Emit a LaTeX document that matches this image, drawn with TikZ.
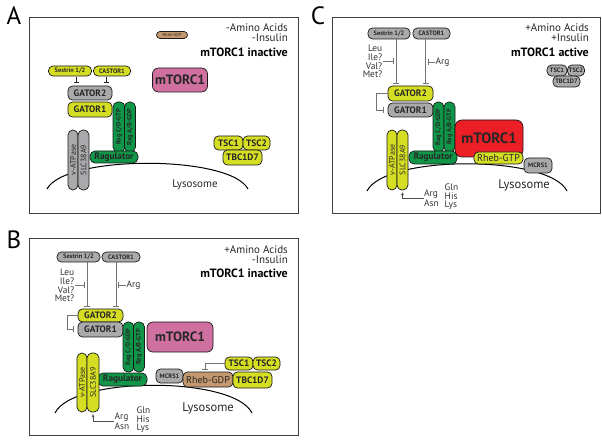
\documentclass[tikz,border=0pt]{standalone}
\usepackage{fontspec}
\setmainfont{PT Sans}
\usetikzlibrary{arrows.meta}

\definecolor{padyellow}{RGB}{214,222,36}
\definecolor{padgray}{RGB}{170,170,173}
\definecolor{padgreen}{RGB}{16,150,72}
\definecolor{padpink}{RGB}{208,112,160}
\definecolor{padred}{RGB}{236,30,38}
\definecolor{padbrown}{RGB}{196,152,110}

\tikzset{
  pill/.style={draw=black!90, line width=0.7pt, rounded corners=4.5pt, inner sep=0pt, text=black!85},
  wh/.style 2 args={minimum width=#1pt, minimum height=#2pt},
  yp/.style={pill, fill=padyellow},
  gp/.style={pill, fill=padgray},
  np/.style={pill, fill=padgreen},
  pp/.style={pill, fill=padpink, rounded corners=6pt},
  rp/.style={pill, fill=padred, rounded corners=7pt},
  bp/.style={pill, fill=padbrown},
  fbig/.style={font=\fontsize{13.5}{14}\selectfont\bfseries},
  fmid/.style={font=\fontsize{9.3}{9.5}\selectfont\bfseries},
  ftiny/.style={font=\fontsize{6.4}{6.5}\selectfont\bfseries},
  fside/.style={font=\fontsize{8}{8}\selectfont},
  aanote/.style={font=\fontsize{9.4}{8.6}\selectfont, text=black!80, inner sep=0.5pt},
  panel/.style={font=\fontsize{25}{25}\selectfont},
  cond/.style={font=\fontsize{11}{11}\selectfont, anchor=east, inner sep=0pt, text=black!85},
  state/.style={font=\fontsize{12}{12}\selectfont\bfseries, anchor=east, inner sep=0pt},
  lyso/.style={font=\fontsize{12.5}{12.5}\selectfont, text=black!85},
  inh/.style={draw=black!55, line width=0.7pt, -{Bar[width=6pt,line width=0.7pt]}},
  upar/.style={draw=black!70, line width=0.6pt, -{Stealth[length=3pt,width=3pt]}},
  panelbox/.style={draw=black!75, line width=0.8pt},
  memb/.style={draw=black, line width=1pt},
}

\begin{document}
\begin{tikzpicture}[x=1pt, y=-1pt]
\useasboundingbox (0,0) rectangle (602,443);

% A: no amino acids, no insulin
\node[panel] (labA) at (14,16) {A};
\draw[panelbox] (29,17) rectangle (298,213);
\node[cond] (condA1) at (288,28) {-Amino Acids};
\node[cond] (condA2) at (288,38) {-Insulin};
\node[state] (stateA) at (288,52) {mTORC1 inactive};
\draw[memb] (47,189) .. controls (65,154.7) and (230,154.7) .. (248,189);
\node[lyso, font=\fontsize{11}{11}\selectfont] (lysA) at (195,185) {Lysosome};

\node[bp, font=\fontsize{4.3}{4.3}\selectfont, wh={31}{7}, rounded corners=3.5pt] (rhebA) at (172,35) {Rheb-GDP};
\node[yp, ftiny, wh={43}{10}] (sesA) at (70,71) {Sestrin 1/2};
\node[yp, ftiny, wh={37}{10}] (casA) at (112,71) {CASTOR1};
\node[gp, fmid, wh={44}{14}] (gat2A) at (90,93) {GATOR2};
\node[yp, fmid, wh={44}{15}] (gat1A) at (90,109.5) {GATOR1};
\node[np, ftiny, wh={12}{50}, rounded corners=5pt] (ragCDa) at (119,127) {\rotatebox{90}{Rag C/D-GTP}};
\node[np, ftiny, wh={11}{50}, rounded corners=5pt] (ragABa) at (130,127) {\rotatebox{90}{Rag A/B-GDP}};
\node[np, fmid, wh={48}{12}, rounded corners=5pt] (regA) at (114,157) {Ragulator};
\node[gp, fside, wh={10}{60}, rounded corners=5pt] (vatA) at (73,160) {\rotatebox{90}{v-ATPase}};
\node[gp, fside, wh={11}{60}, rounded corners=5pt] (slcA) at (83.5,160) {\rotatebox{90}{SLC38A9}};
\node[pp, fbig, wh={55}{24}] (mtorA) at (180,80) {mTORC1};
\node[yp, fmid, wh={29}{14}] (tsc1A) at (228.5,143) {TSC1};
\node[yp, fmid, wh={27}{14}] (tsc2A) at (256.5,143) {TSC2};
\node[yp, fmid, wh={39}{15}] (tbcA) at (242.5,157.5) {TBC1D7};

\coordinate (sesAx) at ([xshift=6pt]sesA.south);
\coordinate (casAx) at ([xshift=-6pt]casA.south);
\draw[inh, draw=black!85, -{Bar[width=5pt]}, shorten <=1pt, shorten >=3pt] (sesAx) -- (sesAx |- gat2A.north);
\draw[inh, draw=black!85, -{Bar[width=5pt]}, shorten <=1pt, shorten >=3pt] (casAx) -- (casAx |- gat2A.north);

% B: amino acids, no insulin
\node[panel] (labB) at (14,240) {B};
\draw[panelbox] (29,238) rectangle (298,435);
\node[cond] (condB1) at (288,250) {+Amino Acids};
\node[cond] (condB2) at (288,259.5) {-Insulin};
\node[state] (stateB) at (288,273) {mTORC1 inactive};
\draw[memb] (55,413) .. controls (73,376) and (234,376) .. (252,413);
\node[lyso] (lysB) at (208,408) {Lysosome};

\node[gp, ftiny, wh={43}{10}] (sesB) at (78.5,257) {Sestrin 1/2};
\node[gp, ftiny, wh={38}{10}] (casB) at (121,257) {CASTOR1};
\node[aanote, align=right, anchor=east] (leuB) at (75,285.5) {Leu\\Ile?\\Val?\\Met?};
\node[aanote, anchor=west] (argB) at (126,285) {Arg};
\node[yp, fmid, wh={45}{13}] (gat2B) at (100.5,315.5) {GATOR2};
\node[gp, fmid, wh={45}{15}] (gat1B) at (100.5,329.5) {GATOR1};
\node[np, ftiny, wh={11}{50}, rounded corners=5pt] (ragCDb) at (128.5,347) {\rotatebox{90}{Rag C/D-GDP}};
\node[np, ftiny, wh={11}{50}, rounded corners=5pt] (ragABb) at (139,347) {\rotatebox{90}{Rag A/B-GTP}};
\node[np, fmid, wh={49}{13}, rounded corners=5pt] (regB) at (122.5,379.5) {Ragulator};
\node[yp, fside, wh={10}{59}, rounded corners=5pt] (vatB) at (82,382.5) {\rotatebox{90}{v-ATPase}};
\node[yp, fside, wh={12}{59}, rounded corners=5pt] (slcB) at (93,382.5) {\rotatebox{90}{SLC38A9}};
\node[pp, fbig, wh={66}{30}] (mtorB) at (180,337) {mTORC1};
\node[gp, ftiny, wh={27}{14}] (mcrsB) at (169.5,376) {MCRS1};
\node[bp, font=\fontsize{10}{10}\selectfont, wh={50}{15}] (rhebB) at (208,379.5) {Rheb-GDP};
\node[yp, fmid, wh={28}{13}] (tsc1B) at (239,363.5) {TSC1};
\node[yp, fmid, wh={27}{13}] (tsc2B) at (266.5,363.5) {TSC2};
\node[yp, fmid, wh={39}{16}] (tbcB) at (252.5,380) {TBC1D7};
\node[aanote, align=left] (aaB) at (122,421.5) {Arg\\Asn};
\node[aanote, align=left] (ghlB) at (143.5,420) {Gln\\His\\Lys};

\coordinate (sesBx) at ([xshift=8.5pt]sesB.south);
\coordinate (casBx) at ([xshift=-5pt]casB.south);
\coordinate (rhebBx) at ([xshift=-3pt]rhebB.north);
\draw[inh, shorten >=2pt] (sesBx) -- (sesBx |- gat2B.north);
\draw[inh, shorten >=2pt] (casBx) -- (casBx |- gat2B.north);
\draw[inh, shorten >=2pt] (leuB.east) -- (leuB.east -| sesBx);
\draw[inh, shorten >=2pt] (argB.west) -- (argB.west -| casBx);
\draw[inh, shorten >=4pt] (gat2B.west) -- ++(-10,0) |- (gat1B.west);
\draw[inh, shorten >=2pt] (tsc1B.west) -| (rhebBx);
\draw[upar, shorten >=2pt] (aaB.west) -| (slcB.south);

% C: amino acids and insulin
\node[panel] (labC) at (318,16) {C};
\draw[panelbox] (332,17) rectangle (600,213);
\node[cond] (condC1) at (589,28) {+Amino Acids};
\node[cond] (condC2) at (589,38) {+Insulin};
\node[state] (stateC) at (589,52) {mTORC1 active};
\draw[memb] (367,191) .. controls (385,154.7) and (549,154.7) .. (567,191);
\node[lyso] (lysC) at (524,185) {Lysosome};

\node[gp, ftiny, wh={42}{11}] (sesC) at (389,33.5) {Sestrin 1/2};
\node[gp, ftiny, wh={37}{11}] (casC) at (431.5,33.5) {CASTOR1};
\node[aanote, align=right, anchor=east] (leuC) at (383,61.5) {Leu\\Ile?\\Val?\\Met?};
\node[aanote, anchor=west] (argC) at (435,62) {Arg};
\node[gp, ftiny, wh={20}{11}] (tsc1C) at (557,70.5) {TSC1};
\node[gp, ftiny, wh={17}{11}] (tsc2C) at (576,70.5) {TSC2};
\node[gp, ftiny, wh={27}{11}] (tbcC) at (566.5,81.5) {TBC1D7};
\node[yp, fmid, wh={45}{15}] (gat2C) at (410.5,93.5) {GATOR2};
\node[gp, fmid, wh={45}{14}] (gat1C) at (410.5,110) {GATOR1};
\node[np, ftiny, wh={11}{50}, rounded corners=5pt] (ragCDc) at (438.5,127) {\rotatebox{90}{Rag C/D-GDP}};
\node[np, ftiny, wh={11}{50}, rounded corners=5pt] (ragABc) at (449.5,127) {\rotatebox{90}{Rag A/B-GTP}};
\node[np, fmid, wh={48}{13}, rounded corners=5pt] (regC) at (433,157.5) {Ragulator};
\node[yp, fside, wh={10}{60}, rounded corners=5pt] (vatC) at (392,160) {\rotatebox{90}{v-ATPase}};
\node[yp, fside, wh={11}{60}, rounded corners=5pt] (slcC) at (402.5,160) {\rotatebox{90}{SLC38A9}};
\node[rp, font=\fontsize{15}{15}\selectfont\bfseries, wh={68}{37}] (mtorC) at (489,138.5) {mTORC1};
\node[yp, font=\fontsize{10}{10}\selectfont, wh={49}{12}] (rhebC) at (498.5,158) {Rheb-GTP};
\node[gp, ftiny, wh={28}{15}] (mcrsC) at (538,165.5) {MCRS1};
\node[aanote, align=left] (aaC) at (431.5,198) {Arg\\Asn};
\node[aanote, align=left] (ghlC) at (451.5,197) {Gln\\His\\Lys};

\coordinate (sesCx) at ([xshift=7pt]sesC.south);
\coordinate (casCx) at ([xshift=-6pt]casC.south);
\draw[inh, shorten >=2pt] (sesCx) -- (sesCx |- gat2C.north);
\draw[inh, shorten >=2pt] (casCx) -- (casCx |- gat2C.north);
\draw[inh, shorten >=2pt] (leuC.east) -- (leuC.east -| sesCx);
\draw[inh, shorten >=2pt] (argC.west) -- (argC.west -| casCx);
\draw[inh, shorten >=4pt] (gat2C.west) -- ++(-11,0) |- (gat1C.west);
\draw[upar, shorten >=2pt] (aaC.west) -| (slcC.south);
\end{tikzpicture}
\end{document}
